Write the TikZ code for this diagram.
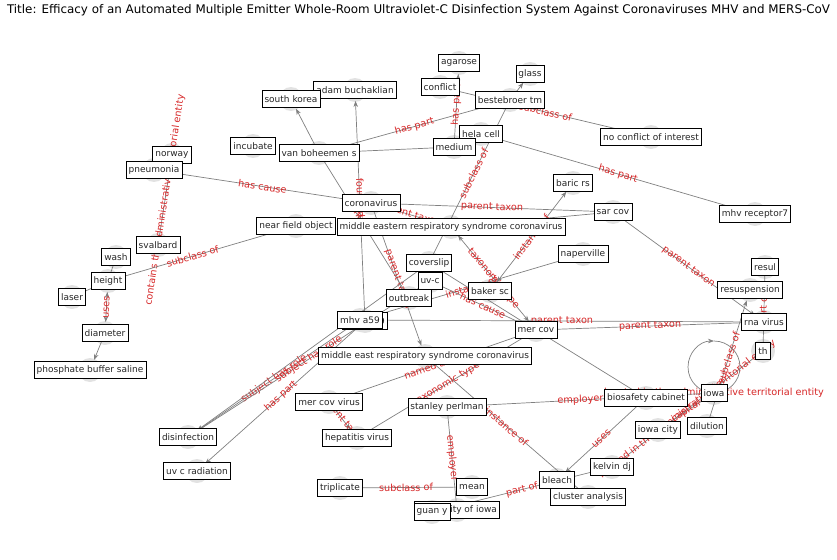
\documentclass[tikz,border=0pt]{standalone}
\usepackage{fontspec}
\setmainfont{DejaVu Sans}
\usetikzlibrary{arrows.meta,calc}
\definecolor{lred}{RGB}{214,39,40}
\definecolor{egray}{RGB}{128,128,128}
\definecolor{ncirc}{RGB}{226,226,226}
\pgfdeclarelayer{bg}
\pgfdeclarelayer{edges}
\pgfsetlayers{bg,edges,main}
\begin{document}
\begin{tikzpicture}[x=1pt,y=-1pt,
  nb/.style={draw=black, fill=white, line width=0.7pt, inner xsep=2.6pt, inner ysep=2.4pt, text=black!85, font=\fontsize{9}{10.8}\selectfont, minimum height=16.5pt},
  edge/.style={draw=egray, line width=0.7pt},
  arr/.style={-{Stealth[length=6pt,width=4.5pt]}, shorten >=11pt},
  barr/.style={{Stealth[length=6pt,width=4.5pt]}-{Stealth[length=6pt,width=4.5pt]}, shorten >=11pt, shorten <=11pt},
  el/.style={text=lred, font=\fontsize{9.7}{11.6}\selectfont, inner sep=0pt, sloped},
  elh/.style={text=lred, font=\fontsize{9.7}{11.6}\selectfont, inner sep=0pt},
]
\useasboundingbox (0,0) rectangle (837,559);
\node[font=\fontsize{11.9}{14}\selectfont, text=black] (title) at (418.5,10) {Title: Efficacy of an Automated Multiple Emitter Whole-Room Ultraviolet-C Disinfection System Against Coronaviruses MHV and MERS-CoV};
% nodes
\node[nb] (incubate) at (253,146) {incubate};
\node[nb] (vanboheemen) at (319,153) {van boheemen s};
\node[nb] (adamb) at (355,90) {adam buchaklian};
\node[nb] (southkorea) at (291,99) {south korea};
\node[nb] (agarose) at (459,63) {agarose};
\node[nb] (glass) at (530,74) {glass};
\node[nb] (conflict) at (440,87) {conflict};
\node[nb] (bestebroer) at (510,100) {bestebroer tm};
\node[nb] (helacell) at (481,134) {hela cell};
\node[nb] (medium) at (454,147) {medium};
\node[nb] (noconflict) at (651,137) {no conflict of interest};
\node[nb] (norway) at (172,155) {norway};
\node[nb] (pneumonia) at (154,170) {pneumonia};
\node[nb] (baricrs) at (573,183) {baric rs};
\node[nb] (coronavirus) at (371,203) {coronavirus};
\node[nb] (sarcov) at (613,212) {sar cov};
\node[nb] (mhvreceptor) at (755,214) {mhv receptor7};
\node[nb] (nearfield) at (296,226) {near field object};
\node[nb] (mersfull) at (451,227) {middle eastern respiratory syndrome coronavirus};
\node[nb] (svalbard) at (158,245) {svalbard};
\node[nb] (wash) at (116,257) {wash};
\node[nb] (height) at (108,281) {height};
\node[nb] (laser) at (72,297) {laser};
\node[nb] (naperville) at (583,254) {naperville};
\node[nb] (coverslip) at (429,263) {coverslip};
\node[nb] (uvc) at (430,281) {uv-c};
\node[nb] (outbreak) at (409,298) {outbreak};
\node[nb] (bakersc) at (490,291) {baker sc};
\node[nb] (resul) at (765,267) {resul};
\node[nb] (resuspension) at (750,290) {resuspension};
\node[nb] (mhvb) at (365,321) {mhv a59};
\node[nb] (mhva59) at (360,320) {mhv a59};
\node[nb] (rnavirus) at (764,322) {rna virus};
\node[nb] (mercov) at (536,330) {mer cov};
\node[nb] (diameter) at (105,333) {diameter};
\node[nb] (th) at (763,351) {th};
\node[nb] (mersshort) at (425,356) {middle east respiratory syndrome coronavirus};
\node[nb] (pbs) at (90,370) {phosphate buffer saline};
\node[nb] (biosafety) at (646,398) {biosafety cabinet};
\node[nb] (iowa) at (714,393) {iowa};
\node[nb] (mercovvirus) at (329,402) {mer cov virus};
\node[nb] (stanley) at (447,407) {stanley perlman};
\node[nb] (dilution) at (707,426) {dilution};
\node[nb] (iowacity) at (658,430) {iowa city};
\node[nb] (disinfection) at (188,437) {disinfection};
\node[nb] (hepatitis) at (357,438) {hepatitis virus};
\node[nb] (kelvin) at (612,467) {kelvin dj};
\node[nb] (uvcrad) at (197,471) {uv c radiation};
\node[nb] (triplicate) at (340,488) {triplicate};
\node[nb] (cluster) at (588,497) {cluster analysis};
\node[nb] (bleach) at (557,480) {bleach};
\node[nb] (mean) at (472,487) {mean};
\node[nb] (uiowa) at (457,510) {university of iowa};
\node[nb] (guany) at (432,512) {guan y};
% circles
\begin{pgfonlayer}{bg}
\foreach \n in {incubate,vanboheemen,adamb,southkorea,agarose,glass,conflict,bestebroer,helacell,medium,noconflict,norway,pneumonia,baricrs,coronavirus,sarcov,mhvreceptor,nearfield,mersfull,svalbard,wash,height,laser,naperville,coverslip,uvc,outbreak,bakersc,resul,resuspension,mhvb,mhva59,rnavirus,mercov,diameter,th,mersshort,pbs,biosafety,iowa,mercovvirus,stanley,dilution,iowacity,disinfection,hepatitis,kelvin,uvcrad,triplicate,cluster,bleach,mean,uiowa,guany}
  \fill[ncirc] (\n.center) circle[radius=12];
\end{pgfonlayer}
% edges
\begin{pgfonlayer}{edges}
\draw[edge,arr] (vanboheemen.center) -- (southkorea.center);
\draw[edge,arr] (mhvb.center) -- (adamb.center) node[el,pos=.5]{founded by};
\draw[edge] (vanboheemen.center) -- (outbreak.center) node[el,pos=.41]{country};
\draw[edge] (vanboheemen.center) -- (bestebroer.center) node[el,pos=.5]{has part};
\draw[edge] (vanboheemen.center) -- (medium.center);
\draw[edge,arr] (medium.center) -- (agarose.center) node[el,pos=.5]{has part};
\draw[edge] (conflict.center) -- (noconflict.center) node[el,pos=.5]{subclass of};
\draw[edge,arr] (bestebroer.center) -- (glass.center);
\draw[edge] (bestebroer.center) -- (coverslip.center) node[el,pos=.45]{subclass of};
\draw[edge] (helacell.center) -- (mhvreceptor.center) node[el,pos=.5]{has part};
\draw[edge] (pneumonia.center) -- (coronavirus.center) node[el,pos=.5]{has cause};
\draw[edge] (coronavirus.center) -- (sarcov.center) node[el,pos=.5]{parent taxon};
\draw[edge] (mersfull.center) -- (sarcov.center);
\draw[edge] (coronavirus.center) -- (mersfull.center) node[el,pos=.5]{parent taxon};
\draw[edge,arr] (coronavirus.center) -- (mersshort.center) node[el,pos=.5]{parent taxon};
\draw[edge,arr] (mhva59.center) -- (disinfection.center) node[el,pos=.5]{subject has role};
\draw[edge,arr] (uvc.center) -- (disinfection.center) node[el,pos=.5]{subject has role};
\draw[edge,arr] (coverslip.center) -- (disinfection.center);
\draw[edge,arr] (mhvb.center) -- (uvcrad.center) node[el,pos=.5]{has part};
\draw[edge] (mhva59.center) -- (naperville.center) node[el,pos=.5]{instance of};
\draw[edge,barr] (bakersc.center) -- (baricrs.center) node[el,pos=.5]{instance of};
\draw[edge,barr] (mersfull.center) -- (mercov.center) node[el,pos=.5]{taxonomic type};
\draw[edge] (uvc.center) -- (mercov.center) node[el,pos=.5]{has cause};
\draw[edge] (coverslip.center) -- (mercov.center);
\draw[edge] (mhva59.center) -- (rnavirus.center) node[el,pos=.5]{parent taxon};
\draw[edge] (mercov.center) -- (rnavirus.center) node[el,pos=.5]{parent taxon};
\draw[edge,arr] (sarcov.center) -- (rnavirus.center) node[el,pos=.5]{parent taxon};
\draw[edge,arr] (dilution.center) -- (resuspension.center) node[el,pos=.5]{subclass of};
\draw[edge] (resul.center) -- (th.center) node[el,pos=.5]{part of};
\draw[edge] (kelvin.center) -- (th.center) node[el,pos=.5]{located in the administrative territorial entity};
\draw[edge] (iowacity.center) -- (iowa.center) node[el,pos=.5]{capital};
\draw[edge,-{Stealth[length=6pt,width=4.5pt]}] (iowa.center) arc[start angle=90, end angle=270, radius=26];
\draw[edge] (iowa.center) arc[start angle=90, end angle=-90, radius=26];
\node[elh] (iowaloop) at (iowa.center) {located in the administrative territorial entity};
\draw[edge] (mercov.center) -- (biosafety.center);
\draw[edge] (stanley.center) -- (iowa.center) node[el,pos=.5]{employer};
\draw[edge,arr] (biosafety.center) -- (bleach.center) node[el,pos=.5]{uses};
\draw[edge] (stanley.center) -- (uiowa.center) node[el,pos=.5]{employer};
\draw[edge] (mersshort.center) -- (cluster.center) node[el,pos=.5]{instance of};
\draw[edge] (triplicate.center) -- (mean.center) node[el,pos=.5]{subclass of};
\draw[edge] (guany.center) -- (kelvin.center) node[el,pos=.5]{part of};
\draw[edge] (hepatitis.center) -- (mercov.center) node[el,pos=.5]{taxonomic type};
\draw[edge] (mercovvirus.center) -- (mercov.center) node[el,pos=.5]{named after};
\draw[edge,arr] (mercovvirus.center) -- (hepatitis.center) node[el,pos=.5]{parent taxon};
\draw[edge] (norway.center) -- (svalbard.center) node[el,pos=.5]{contains the administrative territorial entity};
\draw[edge] (height.center) -- (nearfield.center) node[el,pos=.45]{subclass of};
\draw[edge,barr] (height.center) -- (diameter.center) node[el,pos=.5]{uses};
\draw[edge] (laser.center) -- (height.center);
\draw[edge] (wash.center) -- (height.center);
\draw[edge,arr] (diameter.center) -- (pbs.center);
\end{pgfonlayer}
\end{tikzpicture}
\end{document}
